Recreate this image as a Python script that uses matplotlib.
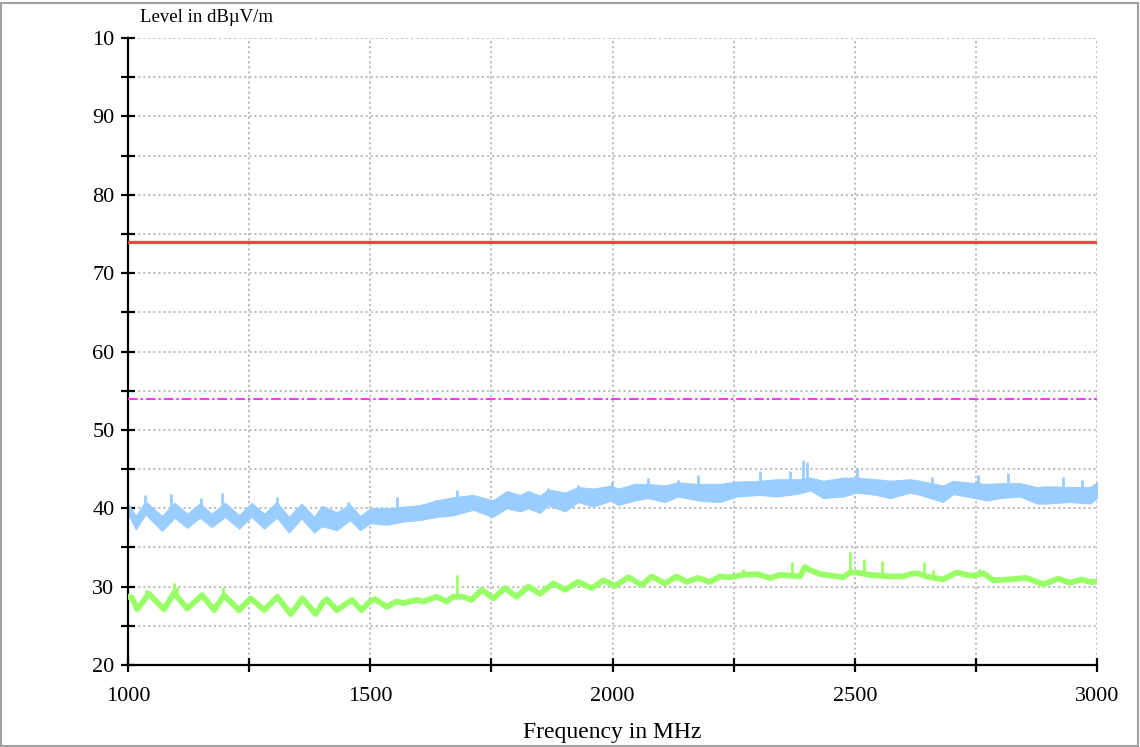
import numpy as np
import matplotlib
matplotlib.use('Agg')
import matplotlib.pyplot as plt
from matplotlib.patches import Rectangle

plt.rcParams['font.family'] = ['Liberation Serif', 'DejaVu Serif']

# limit lines (dBuV/m)
peak_limit = 74.0
avg_limit = 54.0

# peak trace (light blue band), read as lower/upper edge of the band
peak_freq = [1000, 1016, 1036, 1070, 1096, 1122, 1148, 1173, 1200, 1229, 1255, 1281, 1307, 1332,
             1358, 1384, 1400, 1431, 1458, 1479, 1500, 1534, 1568, 1603, 1637, 1671, 1712, 1753,
             1782, 1809, 1826, 1850, 1867, 1902, 1929, 1960, 1998, 2011, 2046, 2073, 2108, 2135,
             2177, 2212, 2222, 2256, 2304, 2339, 2387, 2408, 2435, 2476, 2504, 2545, 2573, 2614,
             2635, 2682, 2703, 2731, 2772, 2800, 2841, 2876, 2896, 2944, 2986, 3000]
peak_low = [39.3, 37.3, 39.2, 37.1, 38.8, 37.5, 38.8, 37.6, 38.9, 37.4, 38.9, 37.4, 38.8, 36.9,
            38.7, 36.9, 37.7, 37.2, 38.5, 37.2, 38.1, 37.9, 38.3, 38.5, 38.9, 39.1, 39.8, 38.9,
            40.0, 39.6, 40.0, 39.4, 40.4, 39.6, 40.8, 40.2, 41.0, 40.4, 41.0, 41.3, 40.8, 41.5,
            41.0, 40.8, 40.8, 41.5, 41.7, 41.5, 41.9, 42.3, 41.3, 41.5, 42.0, 41.7, 41.3, 42.0,
            41.7, 40.8, 41.8, 41.5, 41.0, 41.3, 41.5, 40.6, 40.6, 40.8, 40.6, 41.3]
peak_high = [40.6, 39.0, 40.9, 39.0, 40.7, 39.3, 40.6, 39.3, 40.7, 39.1, 40.7, 39.3, 40.8, 38.9,
             40.6, 38.9, 40.3, 39.5, 40.5, 39.0, 40.0, 40.0, 40.2, 40.4, 41.0, 41.4, 41.7, 41.0,
             42.2, 41.7, 42.2, 41.6, 42.4, 42.0, 42.7, 42.5, 42.9, 42.5, 43.1, 43.1, 42.9, 43.3,
             43.1, 43.1, 43.1, 43.4, 43.5, 43.7, 43.7, 43.9, 43.5, 43.9, 43.9, 43.7, 43.5, 43.7,
             43.5, 42.9, 43.5, 43.3, 43.1, 43.2, 43.2, 42.7, 42.8, 42.7, 42.7, 43.3]
peak_spike_freq = [1036, 1088, 1150, 1195, 1307, 1454, 1555, 1634, 1678, 1867, 1929, 1998, 2073,
                   2135, 2177, 2304, 2366, 2394, 2401, 2504, 2659, 2754, 2817, 2930, 2968]
peak_spike_val = [41.7, 41.8, 41.3, 42.0, 41.4, 40.8, 41.4, 41.1, 42.3, 42.6, 43.0, 43.4, 43.8,
                  43.6, 44.2, 44.7, 44.7, 46.1, 45.9, 45.1, 44.0, 44.2, 44.5, 44.0, 43.6]

# average trace (light green)
avg_freq = [1000, 1008, 1019, 1043, 1074, 1095, 1122, 1153, 1178, 1198, 1229, 1253, 1281, 1308,
            1336, 1360, 1387, 1404, 1410, 1431, 1462, 1482, 1499, 1510, 1534, 1554, 1568, 1596,
            1609, 1637, 1658, 1671, 1692, 1709, 1730, 1754, 1778, 1802, 1826, 1850, 1878, 1902,
            1929, 1957, 1981, 2005, 2033, 2060, 2081, 2108, 2132, 2153, 2177, 2201, 2222, 2242,
            2270, 2298, 2325, 2346, 2387, 2397, 2408, 2428, 2476, 2490, 2504, 2531, 2573, 2600,
            2614, 2628, 2649, 2682, 2710, 2731, 2745, 2766, 2786, 2814, 2855, 2889, 2920, 2944,
            2968, 2986, 3000]
avg_val = [28.7, 28.6, 27.1, 29.1, 27.1, 29.2, 27.2, 28.9, 27.0, 28.9, 27.0, 28.5, 27.0, 28.7,
           26.5, 28.5, 26.5, 28.1, 28.4, 27.0, 28.3, 27.0, 28.1, 28.4, 27.4, 28.1, 27.9, 28.3,
           28.1, 28.7, 28.1, 28.7, 28.7, 28.3, 29.6, 28.5, 29.8, 28.7, 30.0, 29.1, 30.4, 29.6,
           30.6, 29.8, 30.8, 30.1, 31.2, 30.2, 31.3, 30.4, 31.3, 30.6, 31.1, 30.6, 31.3, 31.2,
           31.5, 31.6, 31.1, 31.5, 31.3, 32.5, 32.1, 31.6, 31.2, 31.8, 31.8, 31.5, 31.3, 31.3,
           31.6, 31.7, 31.3, 30.9, 31.8, 31.5, 31.4, 31.7, 30.8, 30.9, 31.1, 30.3, 31.0, 30.5,
           30.9, 30.6, 30.6]
avg_spike_freq = [1038, 1094, 1101, 1197, 1678, 2270, 2370, 2491, 2520, 2557, 2642, 2662, 2756]
avg_spike_val = [29.6, 30.4, 30.0, 30.0, 31.5, 32.2, 33.1, 34.4, 33.5, 33.3, 33.2, 32.1, 32.3]

fig = plt.figure(figsize=(11.4, 7.47), dpi=100)
ax = fig.add_axes([0.1123, 0.1098, 0.85, 0.8393])

# grid
ax.set_xlim(1000, 3000)
ax.set_ylim(20, 100)
ax.set_xticks(np.arange(1000, 3001, 500))
ax.set_xticks(np.arange(1000, 3001, 250), minor=True)
ax.set_yticks(np.arange(20, 101, 10))
ax.set_yticks(np.arange(20, 101, 5), minor=True)
ax.set_yticklabels(['20', '30', '40', '50', '60', '70', '80', '90', '10'])
ax.grid(True, which='both', color='#b8b8b8', linestyle=(0, (1.2, 1.6)), linewidth=1.3, zorder=0)
ax.set_axisbelow(True)

# traces
ax.fill_between(peak_freq, peak_low, peak_high, color='#99ccff', linewidth=0.8,
                edgecolor='#99ccff', zorder=2)
ax.vlines(peak_spike_freq, np.interp(peak_spike_freq, peak_freq, peak_low), peak_spike_val,
          color='#99ccff', linewidth=2.0, zorder=2)
ax.plot(avg_freq, avg_val, color='#99ff66', linewidth=4.2, zorder=3, solid_joinstyle='round')
ax.vlines(avg_spike_freq, np.interp(avg_spike_freq, avg_freq, avg_val), avg_spike_val,
          color='#99ff66', linewidth=2.0, zorder=3)

ax.axhline(peak_limit, color='#ff4444', linewidth=2.4, zorder=4)
ax.axhline(avg_limit, color='#ff33ff', linewidth=1.4, linestyle=(0, (5, 1.5, 1.2, 1.5)), zorder=4)

# axes styling
for s in ['top', 'right']:
    ax.spines[s].set_visible(False)
for s in ['left', 'bottom']:
    ax.spines[s].set_linewidth(1.6)
ax.tick_params(which='both', direction='inout', length=9.5, width=1.6, labelsize=16)
ax.tick_params(axis='y', which='both', pad=5)
ax.tick_params(axis='x', which='both', pad=11)

fig.text(0.1228, 0.976, 'Level in dB\u00b5V/m', fontsize=13.5, ha='left', va='center')
fig.text(0.5373, 0.019, 'Frequency in MHz', fontsize=17, ha='center', va='center')

fig.patches.append(Rectangle((0.001, 0.002), 0.997, 0.994, transform=fig.transFigure,
                             fill=False, edgecolor='#a0a0a0', linewidth=1.5))

fig.savefig('out.png', dpi=100)
